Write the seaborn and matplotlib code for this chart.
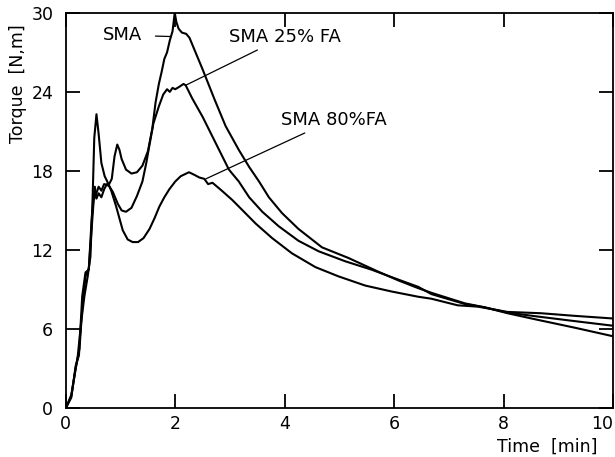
import numpy as np
import pandas as pd
import matplotlib
matplotlib.use("Agg")
import matplotlib.pyplot as plt
import seaborn as sns

# ---- data ----
sma_t = [0, 0.10, 0.18, 0.25, 0.30, 0.36, 0.42, 0.47, 0.51, 0.55, 0.60, 0.65, 0.70, 0.78, 0.84,
         0.89, 0.94, 0.98, 1.02, 1.10, 1.20, 1.30, 1.40, 1.50, 1.58, 1.64, 1.70, 1.75, 1.80, 1.85,
         1.90, 1.95, 1.99, 2.02, 2.06, 2.12, 2.20, 2.26, 2.31, 2.50, 2.72, 2.92, 3.16, 3.35, 3.53,
         3.71, 3.95, 4.25, 4.68, 5.16, 5.71, 6.07, 6.44, 6.68, 7.29, 7.65, 8.07, 8.62, 9.30, 10.0]
sma_T = [0, 0.9, 3.0, 4.5, 7.5, 10.0, 10.6, 13.5, 15.8, 16.2, 16.8, 16.5, 17.0, 16.9, 17.4,
         19.1, 20.0, 19.6, 18.9, 18.1, 17.8, 17.9, 18.4, 19.5, 21.2, 23.2, 24.6, 25.5, 26.5, 27.0,
         27.9, 28.6, 30.0, 29.3, 28.8, 28.5, 28.4, 28.1, 27.6, 25.7, 23.4, 21.4, 19.6, 18.3, 17.2,
         16.0, 14.8, 13.6, 12.2, 11.4, 10.35, 9.7, 9.1, 8.75, 7.95, 7.65, 7.2, 6.7, 6.1, 5.45]

fa25_t = [0, 0.10, 0.18, 0.24, 0.30, 0.36, 0.42, 0.47, 0.50, 0.53, 0.56, 0.60, 0.65, 0.70, 0.75,
          0.80, 0.86, 0.95, 1.02, 1.10, 1.20, 1.30, 1.40, 1.47, 1.53, 1.60, 1.70, 1.78, 1.85, 1.90,
          1.95, 2.00, 2.08, 2.15, 2.19, 2.31, 2.50, 2.74, 2.98, 3.16, 3.35, 3.59, 3.89, 4.25, 4.62,
          5.10, 5.59, 6.01, 6.44, 6.68, 7.29, 7.65, 8.07, 8.62, 9.30, 10.0]
fa25_T = [0, 0.8, 3.2, 4.0, 8.5, 10.3, 10.5, 14.2, 15.6, 16.8, 15.9, 16.3, 16.0, 16.6, 17.0,
          16.8, 16.4, 15.5, 15.0, 14.9, 15.2, 16.1, 17.2, 18.6, 20.0, 21.6, 22.9, 23.8, 24.2, 24.0,
          24.3, 24.2, 24.4, 24.6, 24.5, 23.5, 22.1, 20.1, 18.1, 17.2, 16.0, 14.9, 13.8, 12.7, 11.9,
          11.15, 10.5, 9.85, 9.2, 8.65, 7.9, 7.65, 7.25, 6.95, 6.6, 6.25]

fa80_t = [0, 0.10, 0.16, 0.22, 0.28, 0.34, 0.40, 0.45, 0.49, 0.52, 0.56, 0.60, 0.65, 0.71, 0.78,
          0.83, 0.92, 1.04, 1.13, 1.22, 1.32, 1.42, 1.53, 1.62, 1.71, 1.80, 1.89, 2.00, 2.10, 2.25,
          2.35, 2.44, 2.53, 2.60, 2.68, 2.85, 3.04, 3.16, 3.47, 3.77, 4.13, 4.56, 4.98, 5.47, 5.95,
          6.44, 6.68, 7.16, 7.53, 8.07, 8.68, 9.30, 10.0]
fa80_T = [0, 1.0, 2.5, 4.0, 6.5, 8.5, 10.0, 11.5, 16.0, 20.5, 22.3, 20.8, 18.6, 17.6, 17.0,
          16.5, 15.3, 13.5, 12.8, 12.6, 12.6, 12.9, 13.6, 14.4, 15.3, 16.0, 16.6, 17.2, 17.6, 17.9,
          17.7, 17.5, 17.4, 17.0, 17.1, 16.5, 15.8, 15.3, 14.0, 12.9, 11.75, 10.7, 10.0, 9.3, 8.85,
          8.45, 8.3, 7.8, 7.7, 7.3, 7.2, 7.0, 6.8]

series_names = ["SMA", "SMA 25% FA", "SMA 80%FA"]
x_ticks = [0, 2, 4, 6, 8, 10]
y_ticks = [0, 6, 12, 18, 24, 30]

frames = []
for name, t, T in zip(series_names, [sma_t, fa25_t, fa80_t], [sma_T, fa25_T, fa80_T]):
    frames.append(pd.DataFrame({"t": t, "T": T, "series": name}))
df = pd.concat(frames, ignore_index=True)

sns.set_style("ticks")
plt.rcParams["font.family"] = ["DejaVu Sans"]
plt.rcParams["text.color"] = "black"
plt.rcParams["axes.labelcolor"] = "black"

fig = plt.figure(figsize=(6.15, 4.57), dpi=100)
ax = fig.add_axes([0.107, 0.107, 0.890, 0.865])

sns.lineplot(data=df, x="t", y="T", hue="series", palette=["black"] * 3,
             sort=False, estimator=None, legend=False, linewidth=1.5, ax=ax)

ax.set_xlim(0, 10)
ax.set_ylim(0, 30)
ax.set_xticks(x_ticks)
ax.set_yticks(y_ticks)
ax.set_xticklabels([str(v) for v in x_ticks])
ax.set_yticklabels([str(v) for v in y_ticks])
for s in ax.spines.values():
    s.set_visible(True)
    s.set_linewidth(1.3)
    s.set_color("black")
ax.tick_params(axis="both", direction="in", length=10, width=1.3, top=True, right=True,
               labelsize=12.5, colors="black")
ax.tick_params(axis="y", pad=9)
ax.tick_params(axis="x", pad=5)
xl = ax.get_xticklabels()
xl[-1].set_horizontalalignment("right")

ax.set_xlabel("Time  [min]", fontsize=12.5)
ax.xaxis.set_label_coords(0.88, -0.075)
ax.set_ylabel("Torque  [N,m]", fontsize=12.5)
ax.yaxis.set_label_coords(-0.071, 0.82)

# annotations with leader lines
ax.annotate("SMA", xy=(1.92, 28.2), xytext=(1.40, 28.3), fontsize=13,
            ha="right", va="center", color="black",
            arrowprops=dict(arrowstyle="-", color="black", lw=0.9, shrinkA=7, shrinkB=0))
ax.annotate("SMA 25% FA", xy=(2.19, 24.5), xytext=(2.98, 28.2), fontsize=13,
            ha="left", va="center", color="black",
            arrowprops=dict(arrowstyle="-", color="black", lw=0.9, shrinkA=2, shrinkB=0))
ax.annotate("SMA 80%FA", xy=(2.56, 17.4), xytext=(3.93, 21.9), fontsize=13,
            ha="left", va="center", color="black",
            arrowprops=dict(arrowstyle="-", color="black", lw=0.9, shrinkA=2, shrinkB=0))

fig.savefig("out.png", dpi=100)
